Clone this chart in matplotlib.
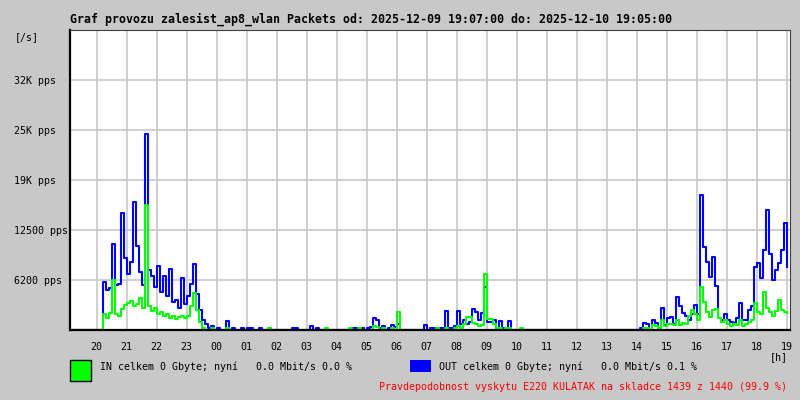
import numpy as np
import matplotlib
matplotlib.use('Agg')
import matplotlib.pyplot as plt
from matplotlib.patches import Rectangle

# Datos del grafico (paquetes por segundo, una muestra cada 6 minutos desde 19:07)
out_pps = [
    0, 0, 0, 0, 0, 0, 0, 0, 0, 0, 0, 6000, 5000, 5300, 10800, 5600, 5800, 14600, 9000, 7000,
    8500, 16000, 10500, 7200, 5600, 24500, 7500, 6800, 5400, 8000, 4800, 6800, 4200, 7600, 3500, 3800, 2800, 6500, 3200, 4200,
    5800, 8250, 4500, 2500, 1200, 800, 300, 500, 0, 300, 0, 0, 1100, 0, 300, 0, 0, 300, 0, 300,
    200, 0, 0, 300, 0, 0, 0, 0, 0, 0, 0, 0, 0, 0, 300, 200, 0, 0, 0, 0,
    500, 0, 300, 0, 0, 0, 0, 0, 0, 0, 0, 0, 0, 0, 200, 200, 0, 200, 0, 300,
    400, 1500, 1200, 300, 500, 0, 300, 600, 400, 800, 0, 0, 0, 0, 0, 0, 0, 0, 600, 0,
    200, 200, 0, 200, 300, 2400, 300, 200, 500, 2400, 800, 1200, 700, 1000, 2600, 2200, 1300, 2100, 5400, 1000,
    1000, 1200, 300, 1100, 200, 300, 1100, 0, 0, 0, 0, 0, 0, 0, 0, 0, 0, 0, 0, 0,
    0, 0, 0, 0, 0, 0, 0, 0, 0, 0, 0, 0, 0, 0, 0, 0, 0, 0, 0, 0,
    0, 0, 0, 0, 0, 0, 0, 0, 0, 0, 300, 900, 700, 0, 1200, 900, 300, 2700, 600, 1500,
    1600, 800, 4100, 3000, 2100, 1800, 1200, 2000, 3100, 2000, 16900, 10400, 8500, 6600, 9100, 5500, 1500, 1300, 2000, 1200,
    1000, 900, 1500, 3400, 1200, 1300, 2500, 3000, 7900, 8400, 6500, 10000, 15000, 9500, 6250, 7500, 8400, 10000, 13400, 7900,
]

in_pps = [
    0, 0, 0, 0, 0, 0, 0, 0, 0, 0, 0, 2000, 1500, 2100, 6200, 2000, 1800, 2600, 3100, 3400,
    3600, 3000, 3200, 4000, 2800, 15600, 3000, 2400, 2700, 2000, 2300, 1800, 2000, 1500, 1700, 1400, 1600, 1800, 1500, 1700,
    3000, 4600, 2500, 1000, 300, 0, 0, 200, 0, 0, 0, 0, 200, 0, 0, 0, 0, 0, 0, 0,
    0, 0, 0, 0, 0, 0, 200, 0, 0, 0, 0, 0, 0, 0, 0, 0, 0, 0, 0, 0,
    0, 0, 0, 0, 0, 200, 0, 0, 0, 0, 0, 0, 0, 200, 0, 0, 200, 0, 0, 0,
    0, 500, 400, 0, 300, 0, 0, 300, 0, 2200, 0, 0, 0, 0, 0, 0, 0, 0, 0, 0,
    0, 0, 200, 0, 0, 300, 0, 0, 300, 500, 200, 800, 1600, 1600, 900, 800, 500, 600, 7000, 1400,
    1400, 700, 300, 200, 0, 200, 200, 0, 0, 0, 300, 0, 0, 0, 0, 0, 0, 0, 0, 0,
    0, 0, 0, 0, 0, 0, 0, 0, 0, 0, 0, 0, 0, 0, 0, 0, 0, 0, 0, 0,
    0, 0, 0, 0, 0, 0, 0, 0, 0, 0, 0, 300, 300, 0, 600, 500, 200, 1200, 500, 800,
    700, 600, 1200, 600, 900, 700, 1800, 2500, 2000, 1200, 5400, 3500, 2200, 1600, 2500, 2600, 1500, 1000, 1200, 800,
    500, 700, 600, 1200, 500, 700, 1000, 1200, 3400, 2200, 2000, 4800, 2800, 2200, 1800, 2400, 3700, 2500, 2300, 2100,
]

hour_labels = ['20', '21', '22', '23', '00', '01', '02', '03', '04', '05', '06', '07',
               '08', '09', '10', '11', '12', '13', '14', '15', '16', '17', '18', '19']
y_ticks = [6250, 12500, 18750, 25000, 31250]
y_labels = ['6200 pps', '12500 pps', '19K pps', '25K pps', '32K pps']

titulo = 'Graf provozu zalesist_ap8_wlan Packets od: 2025-12-09 19:07:00 do: 2025-12-10 19:05:00'
texto_in = 'IN celkem 0 Gbyte; nyní   0.0 Mbit/s 0.0 %'
texto_out = 'OUT celkem 0 Gbyte; nyní   0.0 Mbit/s 0.1 %'
texto_rojo = 'Pravdepodobnost vyskytu E220 KULATAK na skladce 1439 z 1440 (99.9 %)'

plt.rcParams['font.family'] = 'DejaVu Sans Mono'
fondo = '#c8c8c8'

fig = plt.figure(figsize=(8, 4), dpi=100, facecolor=fondo)
ax = fig.add_axes([70 / 800, 70 / 400, 720 / 800, 300 / 400])
ax.set_facecolor('white')

# minutos desde 19:07
t = np.arange(len(out_pps)) * 6
ax.plot(t, out_pps, color='#0000ff', linewidth=1.5, drawstyle='steps-post', zorder=3)
ax.plot(t, in_pps, color='#00ff00', linewidth=1.5, drawstyle='steps-post', zorder=4)

ax.set_xlim(0, 1440)
ax.set_ylim(0, 37500)

# Ejes: horas en punto (20:00 esta 53 min despues del inicio)
ax.set_xticks([53 + 60 * k for k in range(len(hour_labels))])
ax.set_xticklabels(hour_labels, fontsize=7.2)
ax.set_yticks(y_ticks)
ax.set_yticklabels(y_labels, fontsize=7.2, ha='left')
ax.tick_params(axis='x', length=0, pad=9)
ax.tick_params(axis='y', length=0, pad=40.3)
ax.grid(True, color='#c8c8c8', linewidth=1.2, zorder=1)
ax.set_axisbelow(True)

for lado in ['left', 'bottom']:
    ax.spines[lado].set_linewidth(1.6)
    ax.spines[lado].set_color('black')
for lado in ['top', 'right']:
    ax.spines[lado].set_linewidth(0.8)
    ax.spines[lado].set_color('#404040')
for s in ax.spines.values():
    s.set_zorder(5)

# Textos
fig.text(70 / 800, 1 - 19 / 400, titulo, fontsize=8.4, fontweight='bold', va='center', ha='left')
fig.text(15 / 800, 1 - 37 / 400, '[/s]', fontsize=7.2, va='center', ha='left')
fig.text(770 / 800, 1 - 357 / 400, '[h]', fontsize=7.2, va='center', ha='left')

# Leyenda
fig.add_artist(Rectangle((70 / 800, 1 - 381 / 400), 21 / 800, 21 / 400, transform=fig.transFigure,
                         facecolor='#00ff00', edgecolor='black', linewidth=1))
fig.text(100 / 800, 1 - 367 / 400, texto_in, fontsize=7.2, va='center', ha='left')
fig.add_artist(Rectangle((410 / 800, 1 - 372 / 400), 21 / 800, 12 / 400, transform=fig.transFigure,
                         facecolor='#0000ff', edgecolor='none'))
fig.text(439 / 800, 1 - 367 / 400, texto_out, fontsize=7.2, va='center', ha='left')
fig.text(379 / 800, 1 - 387 / 400, texto_rojo, fontsize=7.2, color='#ff0000', va='center', ha='left')

plt.savefig('out.png', dpi=100, facecolor=fondo)
